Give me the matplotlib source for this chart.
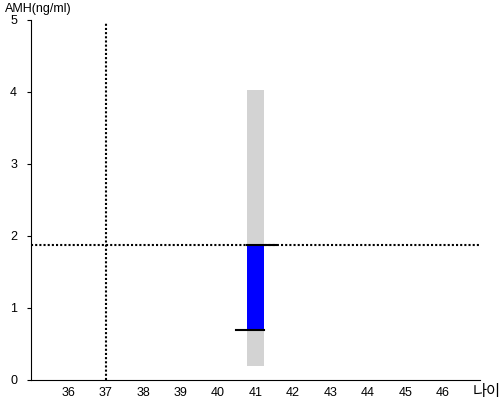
import matplotlib
matplotlib.use('Agg')
import matplotlib.pyplot as plt

plt.rcParams['font.family'] = ['Liberation Sans', 'Noto Sans CJK KR', 'DejaVu Sans']

# data
age = 41
age_ref = 37
amh_value = 1.88
range_low, range_high = 0.19, 4.03
median_amh = 0.69
bar_width = 0.43
xticks = [36, 37, 38, 39, 40, 41, 42, 43, 44, 45, 46]
yticks = [0, 1, 2, 3, 4, 5]

fig = plt.figure(figsize=(5, 4), dpi=100)
ax = fig.add_axes([0.062, 0.05, 0.898, 0.9])

# population range (gray) and difference bar (blue)
ax.bar(age, range_high - range_low, bottom=range_low, width=bar_width, color='#d3d3d3', zorder=1)
ax.bar(age, amh_value - median_amh, bottom=median_amh, width=bar_width, color='#0000ff', zorder=2)
ax.plot([age - bar_width / 2, age + 0.54], [amh_value, amh_value], color='black', lw=1.5, zorder=3)
ax.plot([age - 0.53, age + bar_width / 2], [median_amh, median_amh], color='black', lw=1.5, zorder=3)

# reference cross lines
ax.axhline(amh_value, color='black', lw=1.5, dashes=(1, 1), zorder=0)
ax.plot([age_ref, age_ref], [0, 4.97], color='black', lw=1.5, dashes=(1, 1), zorder=0)

ax.set_xlim(35, 47)
ax.set_ylim(0, 5)
ax.set_xticks(xticks)
ax.set_yticks(yticks)
ax.tick_params(axis='x', length=0, labelsize=9, pad=5)
ax.tick_params(axis='y', length=3, labelsize=9, pad=7)
ax.spines['top'].set_visible(False)
ax.spines['right'].set_visible(False)

fig.text(0.01, 0.978, 'AMH(ng/ml)', fontsize=9, va='center', ha='left')
fig.text(0.946, 0.02, '나이', fontsize=11, va='center', ha='left')

fig.savefig('out.png', dpi=100)
